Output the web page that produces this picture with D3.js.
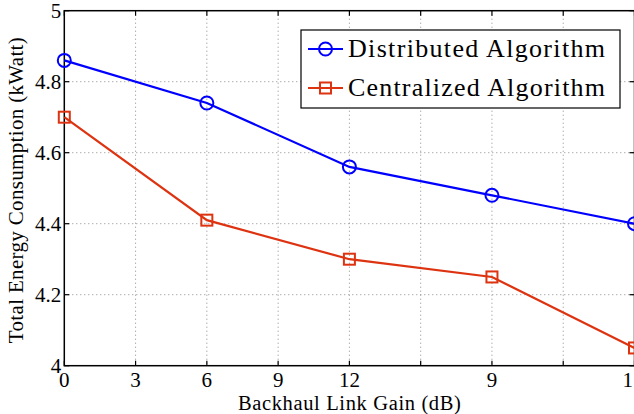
<!DOCTYPE html>
<html>
<head>
<meta charset="utf-8">
<script src="https://cdn.jsdelivr.net/npm/d3@7"></script>
<style>
  html, body { margin: 0; padding: 0; background: #fff; }
  svg text { font-family: "Liberation Serif", "Times New Roman", Times, "DejaVu Serif", serif; fill: #000; }
  .tick-label { font-size: 21px; }
  .axis-label { font-size: 21px; }
  .x-label { font-size: 20.5px; }
  .legend-text { font-size: 26px; }
</style>
</head>
<body>
<svg id="chart" width="634" height="414"></svg>
<script>
/* ── Data ─────────────────────────────────────────────────────────────────── */

const GAIN = [0, 6, 12, 18, 24];
const DISTRIBUTED = [4.86, 4.74, 4.56, 4.48, 4.40];
const CENTRALIZED = [4.70, 4.41, 4.30, 4.25, 4.05];

const X_TICKS = [0, 3, 6, 9, 12, 15, 18, 21, 24];
// labels as printed in the figure (last one is cut by the frame edge)
const X_TICK_LABELS = ["0", "3", "6", "9", "12", "", "9", "", "1"];
const Y_TICKS = [4, 4.2, 4.4, 4.6, 4.8, 5];
const Y_TICK_LABELS = ["4", "4.2", "4.4", "4.6", "4.8", "5"];

const SERIES = [
  { name: "Distributed Algorithm", values: DISTRIBUTED, color: "#0000ff", marker: "circle" },
  { name: "Centralized Algorithm", values: CENTRALIZED, color: "#dd3311", marker: "square" },
];

/* ── Layout ───────────────────────────────────────────────────────────────── */

const svg = d3.select("#chart");
const m = { left: 64.3, right: 634.5, top: 10.7, bottom: 365.7 };

const x = d3.scaleLinear().domain([0, 24]).range([m.left, m.right]);
const y = d3.scaleLinear().domain([4, 5]).range([m.bottom, m.top]);

// Grid (dotted)
const grid = svg.append("g").attr("stroke", "#8a8a8a").attr("stroke-width", 1)
  .attr("stroke-dasharray", "1,3");
X_TICKS.slice(1, -1).forEach((t) => {
  grid.append("line")
    .attr("x1", x(t)).attr("x2", x(t))
    .attr("y1", m.top).attr("y2", m.bottom);
});
Y_TICKS.slice(1, -1).forEach((t) => {
  grid.append("line")
    .attr("x1", m.left).attr("x2", m.right)
    .attr("y1", y(t)).attr("y2", y(t));
});

// Frame
svg.append("rect")
  .attr("x", m.left).attr("y", m.top)
  .attr("width", m.right - m.left).attr("height", m.bottom - m.top)
  .attr("fill", "none").attr("stroke", "#000").attr("stroke-width", 1.5);

// Inward ticks
const ticks = svg.append("g").attr("stroke", "#000").attr("stroke-width", 1.2);
const TL = 5;
X_TICKS.forEach((t) => {
  ticks.append("line").attr("x1", x(t)).attr("x2", x(t)).attr("y1", m.bottom).attr("y2", m.bottom - TL);
  ticks.append("line").attr("x1", x(t)).attr("x2", x(t)).attr("y1", m.top).attr("y2", m.top + TL);
});
Y_TICKS.forEach((t) => {
  ticks.append("line").attr("x1", m.left).attr("x2", m.left + TL).attr("y1", y(t)).attr("y2", y(t));
  ticks.append("line").attr("x1", m.right).attr("x2", m.right - TL).attr("y1", y(t)).attr("y2", y(t));
});

// Tick labels
X_TICKS.forEach((t, i) => {
  const last = i === X_TICKS.length - 1;
  svg.append("text")
    .attr("class", "tick-label")
    .attr("x", last ? 633 : x(t)).attr("y", 387)
    .attr("text-anchor", last ? "end" : "middle")
    .text(X_TICK_LABELS[i]);
});
Y_TICKS.forEach((t, i) => {
  svg.append("text")
    .attr("class", "tick-label")
    .attr("x", m.left - 3).attr("y", y(t) + 7)
    .attr("text-anchor", "end")
    .text(Y_TICK_LABELS[i]);
});

// Axis labels
svg.append("text")
  .attr("class", "x-label")
  .attr("x", (m.left + m.right) / 2).attr("y", 409.5)
  .attr("text-anchor", "middle")
  .attr("textLength", 223).attr("lengthAdjust", "spacing")
  .text("Backhaul Link Gain (dB)");

svg.append("text")
  .attr("class", "axis-label")
  .attr("transform", `translate(23,${(m.top + m.bottom) / 2 + 2}) rotate(-90)`)
  .attr("text-anchor", "middle")
  .attr("textLength", 306).attr("lengthAdjust", "spacing")
  .text("Total Energy Consumption (kWatt)");

/* ── Series ───────────────────────────────────────────────────────────────── */

function drawMarker(g, type, cx, cy, color) {
  if (type === "circle") {
    g.append("circle").attr("cx", cx).attr("cy", cy).attr("r", 6.5)
      .attr("fill", "none").attr("stroke", color).attr("stroke-width", 2);
  } else {
    g.append("rect").attr("x", cx - 5.5).attr("y", cy - 5.5)
      .attr("width", 11).attr("height", 11)
      .attr("fill", "none").attr("stroke", color).attr("stroke-width", 2);
  }
}

const line = d3.line().x((d) => x(d[0])).y((d) => y(d[1]));

SERIES.forEach((s) => {
  const pts = GAIN.map((g, i) => [g, s.values[i]]);
  const g = svg.append("g");
  g.append("path").attr("d", line(pts))
    .attr("fill", "none").attr("stroke", s.color).attr("stroke-width", 2.2);
  pts.forEach((p) => drawMarker(g, s.marker, x(p[0]), y(p[1]), s.color));
});

/* ── Legend ───────────────────────────────────────────────────────────────── */

const lg = svg.append("g");
lg.append("rect")
  .attr("x", 301).attr("y", 30).attr("width", 319).attr("height", 78)
  .attr("fill", "#fff").attr("stroke", "#000").attr("stroke-width", 1.2);

SERIES.forEach((s, i) => {
  const cy = 49 + i * 39;
  lg.append("line").attr("x1", 308).attr("x2", 343).attr("y1", cy).attr("y2", cy)
    .attr("stroke", s.color).attr("stroke-width", 2.2);
  drawMarker(lg, s.marker, 325.5, cy, s.color);
  lg.append("text").attr("class", "legend-text")
    .attr("x", 348).attr("y", cy + 8)
    .attr("textLength", 257).attr("lengthAdjust", "spacing")
    .text(s.name);
});
</script>
</body>
</html>
